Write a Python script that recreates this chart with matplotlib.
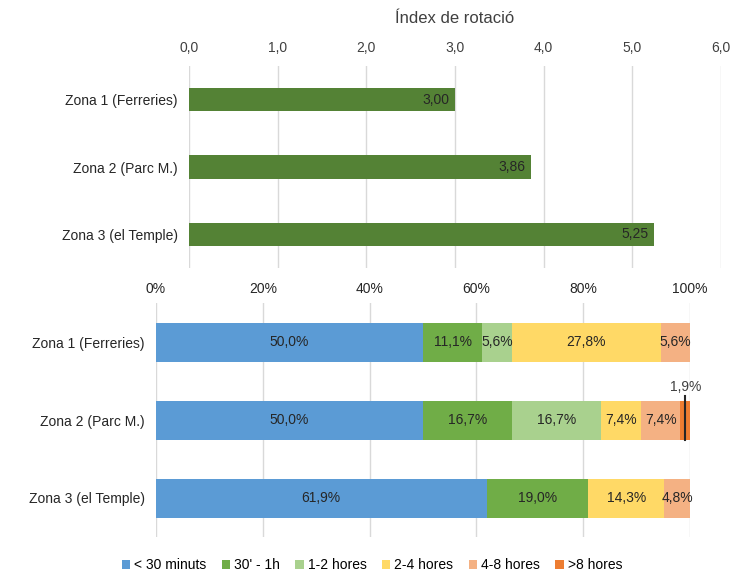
import matplotlib.pyplot as plt
import numpy as np

plt.rcParams['font.family'] = ['Liberation Sans', 'DejaVu Sans']
plt.rcParams['font.size'] = 10

zones = ['Zona 1 (Ferreries)', 'Zona 2 (Parc M.)', 'Zona 3 (el Temple)']
rotacio = [3.00, 3.86, 5.25]

cats = ['< 30 minuts', "30' - 1h", '1-2 hores', '2-4 hores', '4-8 hores', '>8 hores']
colors = ['#5B9BD5', '#70AD47', '#A9D18E', '#FFD966', '#F4B183', '#ED7D31']
pct = np.array([
    [50.0, 11.1, 5.6, 27.8, 5.6, 0.0],
    [50.0, 16.7, 16.7, 7.4, 7.4, 1.9],
    [61.9, 19.0, 0.0, 14.3, 4.8, 0.0],
])

fig = plt.figure(figsize=(7.49, 5.73), dpi=100)

# gràfic de dalt: índex de rotació
ax1 = fig.add_axes([189/749, 1-268/573, 532/749, 202/573])
y = np.arange(len(zones))
ax1.barh(y, rotacio, height=0.35, color='#548235', zorder=2)
for yi, v in zip(y, rotacio):
    ax1.annotate(f'{v:.2f}'.replace('.', ','), (v, yi), xytext=(-4, 0), textcoords='offset points',
                 ha='right', va='center', color='#262626', fontsize=10)
ax1.set_xlim(0, 6)
ax1.set_ylim(2.5, -0.5)
ax1.set_xticks(np.arange(0, 7, 1))
ax1.set_xticklabels([f'{t:.1f}'.replace('.', ',') for t in np.arange(0, 7, 1)], color='#404040')
ax1.xaxis.tick_top()
ax1.xaxis.set_label_position('top')
ax1.set_xlabel('Índex de rotació', fontsize=12, color='#404040', labelpad=13)
ax1.set_yticks(y)
ax1.set_yticklabels(zones, color='#262626')
ax1.tick_params(length=0, pad=8)
ax1.grid(axis='x', color='#D9D9D9', lw=1, zorder=0)
for s in ax1.spines.values():
    s.set_visible(False)

# gràfic de baix: temps d'estada
ax2 = fig.add_axes([156/749, 1-537/573, 534/749, 234/573])
left = np.zeros(len(zones))
for j, c in enumerate(cats):
    ax2.barh(y, pct[:, j], left=left, height=0.5, color=colors[j], label=c, zorder=2)
    for i in range(len(zones)):
        v = pct[i, j]
        if v <= 0:
            continue
        xc = left[i] + v / 2
        txt = f'{v:.1f}%'.replace('.', ',')
        if v < 3:
            ax2.plot([xc, xc], [y[i] - 0.31, y[i] + 0.26], color='#262626', lw=1.5, zorder=3)
            ax2.text(xc, y[i] - 0.33, txt, ha='center', va='bottom', color='#404040', fontsize=10)
        else:
            ax2.text(xc, y[i], txt, ha='center', va='center', color='#262626', fontsize=10, zorder=4)
    left += pct[:, j]
ax2.set_xlim(0, 100)
ax2.set_ylim(2.5, -0.5)
ax2.set_xticks(np.arange(0, 101, 20))
ax2.set_xticklabels([f'{t}%' for t in range(0, 101, 20)], color='#262626')
ax2.xaxis.tick_top()
ax2.set_yticks(y)
ax2.set_yticklabels(zones, color='#262626')
ax2.tick_params(axis='y', length=0, pad=8)
ax2.tick_params(axis='x', length=0, pad=5)
ax2.grid(axis='x', color='#D9D9D9', lw=1, zorder=0)
for s in ax2.spines.values():
    s.set_visible(False)

fig.legend(loc='center', bbox_to_anchor=(372/749, 1-565/573), ncol=6, frameon=False,
           handlelength=0.6, handleheight=0.6, handletextpad=0.3, columnspacing=1.1, fontsize=10)

fig.savefig('out.png', dpi=100)
